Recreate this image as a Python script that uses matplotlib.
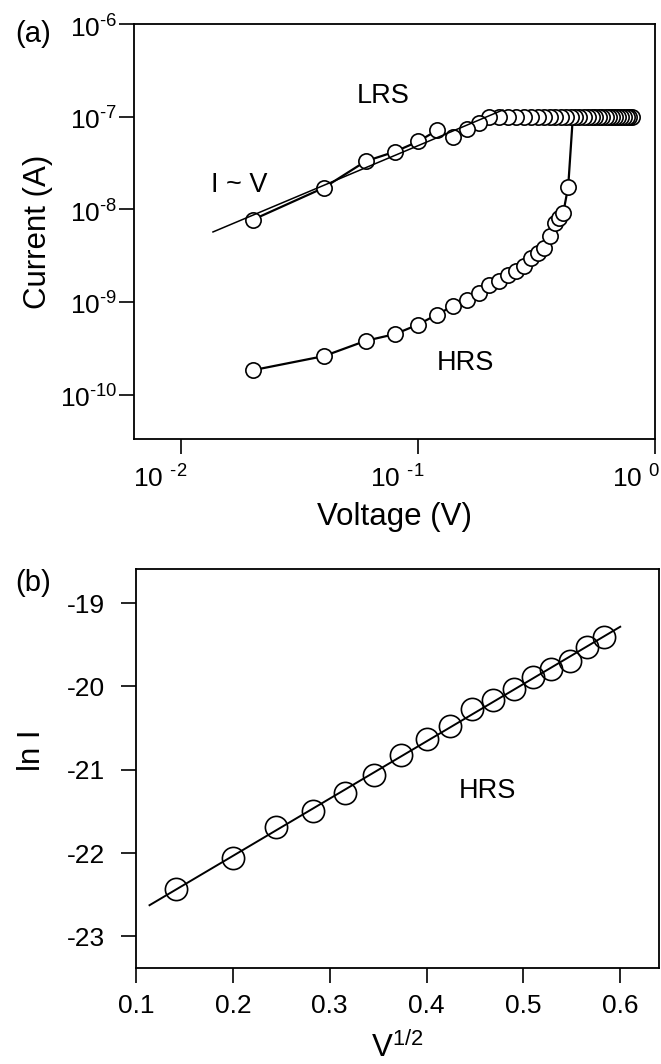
import numpy as np
import matplotlib
matplotlib.use('Agg')
import matplotlib.pyplot as plt
import matplotlib.transforms as mtrans
from matplotlib.ticker import FixedLocator, NullLocator

plt.rcParams['font.family'] = ['Liberation Sans', 'DejaVu Sans']
plt.rcParams['mathtext.fontset'] = 'custom'
plt.rcParams['mathtext.rm'] = 'Liberation Sans'
plt.rcParams['mathtext.it'] = 'Liberation Sans:italic'
plt.rcParams['mathtext.bf'] = 'Liberation Sans:bold'

# ---- panel (a): I-V sweep, log-log ----
# HRS branch (forward sweep)
hrs_v = [0.02, 0.04, 0.06, 0.08, 0.10, 0.12, 0.14, 0.16, 0.18, 0.20, 0.22,
         0.24, 0.26, 0.28, 0.30, 0.32, 0.34, 0.36, 0.38, 0.395, 0.41, 0.43]
hrs_i = [1.83e-10, 2.6e-10, 3.8e-10, 4.5e-10, 5.7e-10, 7.3e-10, 9.0e-10,
         1.06e-9, 1.25e-9, 1.51e-9, 1.70e-9, 1.94e-9, 2.18e-9, 2.45e-9,
         2.95e-9, 3.35e-9, 3.8e-9, 5.1e-9, 7.1e-9, 8.0e-9, 9.2e-9, 1.75e-8]
# switching point (set)
set_v = [0.43, 0.45]
set_i = [1.75e-8, 1.0e-7]
# LRS branch (sweep back from max voltage)
lrs_v = [0.80, 0.78, 0.76, 0.74, 0.72, 0.70, 0.68, 0.66, 0.64, 0.62,
         0.60, 0.58, 0.56, 0.54, 0.52, 0.50, 0.48, 0.46, 0.44, 0.42,
         0.40, 0.38, 0.36, 0.34, 0.32, 0.30, 0.28, 0.26, 0.24, 0.22,
         0.20, 0.18, 0.16, 0.14, 0.12, 0.10, 0.08, 0.06, 0.04, 0.02]
lrs_i = [1.0e-7, 1.0e-7, 1.0e-7, 1.0e-7, 1.0e-7, 1.0e-7, 1.0e-7, 1.0e-7, 1.0e-7, 1.0e-7,
         1.0e-7, 1.0e-7, 1.0e-7, 1.0e-7, 1.0e-7, 1.0e-7, 1.0e-7, 1.0e-7, 1.0e-7, 1.0e-7,
         1.0e-7, 1.0e-7, 1.0e-7, 1.0e-7, 1.0e-7, 1.0e-7, 1.0e-7, 1.0e-7, 1.0e-7, 1.0e-7,
         9.8e-8, 8.6e-8, 7.3e-8, 6.0e-8, 7.1e-8, 5.4e-8, 4.2e-8, 3.3e-8, 1.71e-8, 7.7e-9]
lrs_fit_range = [0.0136, 0.228]   # extent of the I ~ V fit line

a_xticks = [0.01, 0.1, 1.0]
a_xticklabels = ['10 $\\mathregular{^{\u20102}}$', '10 $\\mathregular{^{\u20101}}$', '10 $\\mathregular{^{0}}$']
a_yticks = [1e-10, 1e-9, 1e-8, 1e-7, 1e-6]
a_yticklabels = ['$\\mathregular{10^{\u201010}}$', '$\\mathregular{10^{\u20109}}$',
                 '$\\mathregular{10^{\u20108}}$', '$\\mathregular{10^{\u20107}}$',
                 '$\\mathregular{10^{\u20106}}$']

# ---- panel (b): ln I vs V^1/2 for HRS ----
sqrt_v = [0.141, 0.200, 0.245, 0.283, 0.316, 0.346, 0.374, 0.400, 0.424,
          0.447, 0.469, 0.490, 0.510, 0.529, 0.548, 0.566, 0.583]
ln_i = [-22.43, -22.06, -21.69, -21.50, -21.28, -21.06, -20.82, -20.63, -20.47,
        -20.27, -20.16, -20.03, -19.89, -19.79, -19.69, -19.53, -19.41]
b_fit_range = [0.114, 0.600]

fig = plt.figure(figsize=(6.61, 10.64), dpi=100)
ax_a = fig.add_axes([0.2027, 0.5874, 0.7882, 0.3900])
ax_b = fig.add_axes([0.2057, 0.0902, 0.7912, 0.3750])

tick_fs = 19
lab_fs = 22.5
ann_fs = 19.5

for ax in (ax_a, ax_b):
    for s in ax.spines.values():
        s.set_linewidth(1.3)
    ax.tick_params(direction='out', length=11, width=1.2, labelsize=tick_fs)

# panel (a)
ax_a.set_xscale('log')
ax_a.set_yscale('log')
ax_a.plot(hrs_v, hrs_i, '-', color='k', lw=1.6, marker='o', ms=11,
          mfc='white', mec='k', mew=1.2, zorder=3)
ax_a.plot(set_v, set_i, '-', color='k', lw=1.6, zorder=2)
ax_a.plot(lrs_v, lrs_i, '-', color='k', lw=1.6, marker='o', ms=11,
          mfc='white', mec='k', mew=1.2, zorder=3)
# linear fit on log-log scale for LRS at low bias
low = np.array(lrs_v) <= 0.2
pa = np.polyfit(np.log10(np.array(lrs_v)[low]), np.log10(np.array(lrs_i)[low]), 1)
fx = np.array(lrs_fit_range)
ax_a.plot(fx, 10 ** np.polyval(pa, np.log10(fx)), '-', color='k', lw=1.1, zorder=4)

ax_a.set_xlim(10 ** -2.2, 1.0)
ax_a.set_ylim(10 ** -10.48, 1e-6)
ax_a.xaxis.set_major_locator(FixedLocator(a_xticks))
ax_a.xaxis.set_minor_locator(NullLocator())
ax_a.yaxis.set_major_locator(FixedLocator(a_yticks))
ax_a.yaxis.set_minor_locator(NullLocator())
ax_a.set_xticklabels(a_xticklabels)
ax_a.set_yticklabels(a_yticklabels)
ax_a.tick_params(axis='x', pad=8)
ax_a.tick_params(axis='y', pad=1)
shift_x = mtrans.ScaledTranslation(6 / 100, 0, fig.dpi_scale_trans)
for lab in ax_a.get_xticklabels():
    lab.set_horizontalalignment('right')
    lab.set_transform(lab.get_transform() + shift_x)
shift_y = mtrans.ScaledTranslation(0, -2 / 100, fig.dpi_scale_trans)
for lab in ax_a.get_yticklabels():
    lab.set_transform(lab.get_transform() + shift_y)

ax_a.set_xlabel('Voltage (V)', fontsize=lab_fs)
ax_a.xaxis.set_label_coords(0.5, -0.152)
ax_a.set_ylabel('Current (A)', fontsize=lab_fs)
ax_a.yaxis.set_label_coords(-0.156, 0.5)

ax_a.text(0.071, 1.67e-7, 'LRS', fontsize=ann_fs, ha='center', va='center')
ax_a.text(0.0176, 1.83e-8, 'I ~ V', fontsize=ann_fs, ha='center', va='center')
ax_a.text(0.159, 2.19e-10, 'HRS', fontsize=ann_fs, ha='center', va='center')

# panel (b)
ax_b.plot(sqrt_v, ln_i, 'o', ms=16, mfc='none', mec='k', mew=1.2, zorder=3)
pb = np.polyfit(sqrt_v, ln_i, 1)
bx = np.array(b_fit_range)
ax_b.plot(bx, np.polyval(pb, bx), '-', color='k', lw=1.4, zorder=2)

ax_b.set_xlim(0.1, 0.64)
ax_b.set_ylim(-23.38, -18.59)
ax_b.set_xticks([0.1, 0.2, 0.3, 0.4, 0.5, 0.6])
ax_b.set_xticklabels(['0.1', '0.2', '0.3', '0.4', '0.5', '0.6'])
ax_b.set_yticks([-23, -22, -21, -20, -19])
ax_b.set_yticklabels(['-23', '-22', '-21', '-20', '-19'])
ax_b.tick_params(axis='x', pad=8)
ax_b.tick_params(axis='y', pad=11)
ax_b.set_xlabel('$\\mathregular{V^{1/2}}$', fontsize=lab_fs)
ax_b.xaxis.set_label_coords(0.5, -0.16)
ax_b.set_ylabel('ln I', fontsize=lab_fs)
ax_b.yaxis.set_label_coords(-0.17, 0.546)
ax_b.text(0.463, -21.26, 'HRS', fontsize=ann_fs, ha='center', va='center')

fig.text(0.0227, 0.9683, '(a)', fontsize=21, ha='left', va='center')
fig.text(0.0227, 0.452, '(b)', fontsize=21, ha='left', va='center')

fig.savefig('out.png', dpi=100)
